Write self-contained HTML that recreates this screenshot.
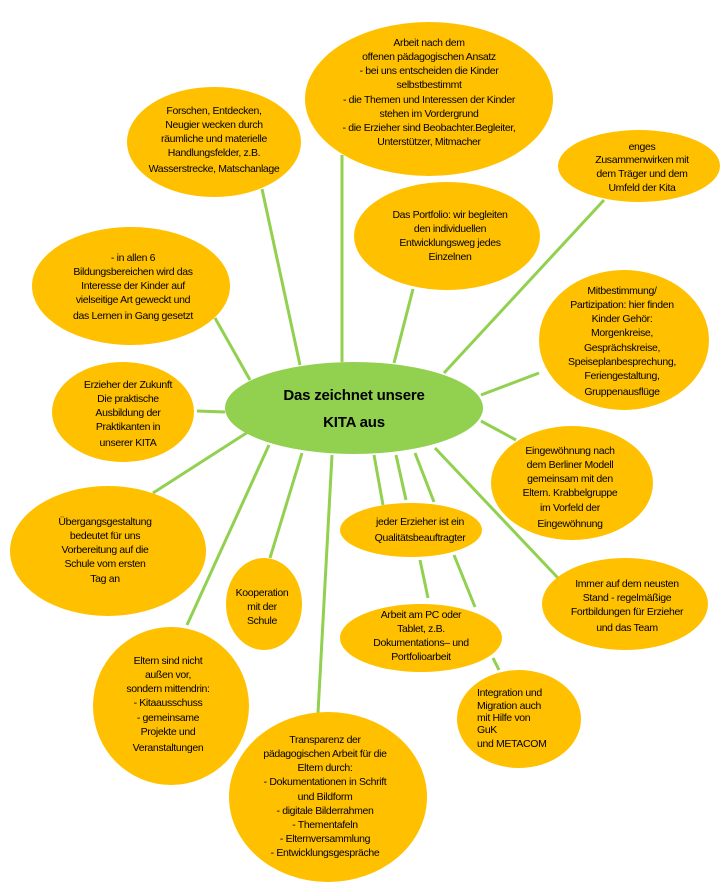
<!DOCTYPE html>
<html><head><meta charset="utf-8"><style>
html,body{margin:0;padding:0;background:#fff;}
svg{display:block;}
text{font-family:"Liberation Sans",sans-serif;font-size:10.5px;letter-spacing:-0.35px;fill:#000;}
.c{text-anchor:middle;}
.l{text-anchor:start;}
.t{font-size:15px;font-weight:bold;letter-spacing:-0.2px;}
</style></head><body>
<svg width="721" height="892" viewBox="0 0 721 892" xmlns="http://www.w3.org/2000/svg">
<g stroke="#92D050" stroke-width="3" fill="none">
<line x1="262" y1="189" x2="300" y2="365"/>
<line x1="342" y1="155" x2="342" y2="362"/>
<line x1="413" y1="289" x2="394" y2="363"/>
<line x1="604" y1="200" x2="444" y2="373"/>
<line x1="215" y1="318" x2="250" y2="380"/>
<line x1="539" y1="373" x2="481" y2="395"/>
<line x1="197" y1="411" x2="225" y2="412"/>
<line x1="481" y1="421" x2="516" y2="440"/>
<line x1="248" y1="432" x2="153" y2="493"/>
<line x1="269" y1="445" x2="187" y2="625"/>
<line x1="302" y1="453" x2="270" y2="558"/>
<line x1="332" y1="455" x2="318" y2="713"/>
<line x1="374" y1="455" x2="383" y2="505"/>
<line x1="396" y1="455" x2="406" y2="500"/>
<line x1="415" y1="453" x2="434" y2="502"/>
<line x1="435" y1="448" x2="558" y2="578"/>
<line x1="420" y1="560" x2="428" y2="598"/>
<line x1="454" y1="555" x2="475" y2="607"/>
<line x1="493" y1="658" x2="499" y2="670"/>
</g>
<g fill="#FFC000">
<ellipse cx="429" cy="99" rx="124" ry="77"/>
<ellipse cx="214" cy="142" rx="87" ry="55"/>
<ellipse cx="639" cy="166" rx="81" ry="36"/>
<ellipse cx="447" cy="236" rx="93" ry="54"/>
<ellipse cx="131" cy="286" rx="99" ry="59"/>
<ellipse cx="624" cy="340" rx="85" ry="70"/>
<ellipse cx="123" cy="412" rx="71" ry="50"/>
<ellipse cx="572" cy="483" rx="81" ry="57"/>
<ellipse cx="108" cy="551" rx="98" ry="65"/>
<ellipse cx="411" cy="530" rx="71" ry="27"/>
<ellipse cx="264" cy="604" rx="38" ry="46"/>
<ellipse cx="625" cy="604" rx="83" ry="46"/>
<ellipse cx="421" cy="638" rx="81" ry="34"/>
<ellipse cx="171" cy="706" rx="78" ry="79"/>
<ellipse cx="519" cy="719" rx="62" ry="49"/>
<ellipse cx="328" cy="797" rx="99" ry="85"/>
</g>
<ellipse cx="354" cy="408" rx="129" ry="46" fill="#92D050"/>
<text class="c t" x="354" y="400">Das zeichnet unsere</text>
<text class="c t" x="354" y="427">KITA aus</text>

<g>
<text class="c" x="429" y="46">Arbeit nach dem</text>
<text class="c" x="429" y="60">offenen pädagogischen Ansatz</text>
<text class="c" x="429" y="74">- bei uns entscheiden die Kinder</text>
<text class="c" x="429" y="88">selbstbestimmt</text>
<text class="c" x="429" y="103">- die Themen und Interessen der Kinder</text>
<text class="c" x="429" y="117">stehen im Vordergrund</text>
<text class="c" x="429" y="131">- die Erzieher sind  Beobachter.Begleiter,</text>
<text class="c" x="429" y="145">Unterstützer, Mitmacher</text>

<text class="c" x="214" y="114">Forschen, Entdecken,</text>
<text class="c" x="214" y="128">Neugier wecken durch</text>
<text class="c" x="214" y="142">räumliche und materielle</text>
<text class="c" x="214" y="156">Handlungsfelder, z.B.</text>
<text class="c" x="214" y="172">Wasserstrecke, Matschanlage</text>

<text class="c" x="642" y="150">enges</text>
<text class="c" x="642" y="163">Zusammenwirken mit</text>
<text class="c" x="642" y="177">dem Träger und dem</text>
<text class="c" x="642" y="191">Umfeld der Kita</text>

<text class="c" x="450" y="218">Das Portfolio: wir begleiten</text>
<text class="c" x="450" y="232">den individuellen</text>
<text class="c" x="450" y="246">Entwicklungsweg jedes</text>
<text class="c" x="450" y="260">Einzelnen</text>

<text class="c" x="133" y="261">- in allen 6</text>
<text class="c" x="133" y="275">Bildungsbereichen wird das</text>
<text class="c" x="133" y="289">Interesse der Kinder auf</text>
<text class="c" x="133" y="303">vielseitige Art geweckt und</text>
<text class="c" x="133" y="319">das Lernen in Gang gesetzt</text>

<text class="c" x="622" y="294">Mitbestimmung/</text>
<text class="c" x="622" y="308">Partizipation:  hier finden</text>
<text class="c" x="622" y="322">Kinder Gehör:</text>
<text class="c" x="622" y="336">Morgenkreise,</text>
<text class="c" x="622" y="351">Gesprächskreise,</text>
<text class="c" x="622" y="365">Speiseplanbesprechung,</text>
<text class="c" x="622" y="379">Feriengestaltung,</text>
<text class="c" x="622" y="395">Gruppenausflüge</text>

<text class="c" x="128" y="388">Erzieher der Zukunft</text>
<text class="c" x="128" y="402">Die praktische</text>
<text class="c" x="128" y="416">Ausbildung der</text>
<text class="c" x="128" y="430">Praktikanten in</text>
<text class="c" x="128" y="446">unserer KITA</text>

<text class="c" x="570" y="454">Eingewöhnung nach</text>
<text class="c" x="570" y="468">dem Berliner Modell</text>
<text class="c" x="570" y="482">gemeinsam mit den</text>
<text class="c" x="570" y="496">Eltern. Krabbelgruppe</text>
<text class="c" x="570" y="511">im Vorfeld der</text>
<text class="c" x="570" y="527">Eingewöhnung</text>

<text class="c" x="105" y="525">Übergangsgestaltung</text>
<text class="c" x="105" y="539">bedeutet für uns</text>
<text class="c" x="105" y="553">Vorbereitung auf die</text>
<text class="c" x="105" y="567">Schule vom ersten</text>
<text class="c" x="105" y="582">Tag an</text>

<text class="c" x="420" y="525">jeder Erzieher ist ein</text>
<text class="c" x="420" y="541">Qualitätsbeauftragter</text>

<text class="c" x="262" y="596">Kooperation</text>
<text class="c" x="262" y="610">mit der</text>
<text class="c" x="262" y="624">Schule</text>

<text class="c" x="627" y="587">Immer auf dem neusten</text>
<text class="c" x="627" y="601">Stand - regelmäßige</text>
<text class="c" x="627" y="615">Fortbildungen für Erzieher</text>
<text class="c" x="627" y="631">und das Team</text>

<text class="c" x="421" y="618">Arbeit am  PC oder</text>
<text class="c" x="421" y="632">Tablet, z.B.</text>
<text class="c" x="421" y="646">Dokumentations– und</text>
<text class="c" x="421" y="660">Portfolioarbeit</text>

<text class="c" x="168" y="664">Eltern sind nicht</text>
<text class="c" x="168" y="678">außen vor,</text>
<text class="c" x="168" y="692">sondern mittendrin:</text>
<text class="c" x="168" y="706">- Kitaausschuss</text>
<text class="c" x="168" y="721">- gemeinsame</text>
<text class="c" x="168" y="735">Projekte und</text>
<text class="c" x="168" y="751">Veranstaltungen</text>

<text class="l" x="477" y="696">Integration und</text>
<text class="l" x="477" y="709">Migration auch</text>
<text class="l" x="477" y="721">mit Hilfe von</text>
<text class="l" x="477" y="733">GuK</text>
<text class="l" x="477" y="747">und METACOM</text>

<text class="c" x="325" y="743">Transparenz der</text>
<text class="c" x="325" y="757">pädagogischen Arbeit für die</text>
<text class="c" x="325" y="771">Eltern durch:</text>
<text class="c" x="325" y="785">- Dokumentationen in Schrift</text>
<text class="c" x="325" y="800">und Bildform</text>
<text class="c" x="325" y="814">- digitale Bilderrahmen</text>
<text class="c" x="325" y="828">- Thementafeln</text>
<text class="c" x="325" y="842">- Elternversammlung</text>
<text class="c" x="325" y="856">- Entwicklungsgespräche</text>
</g>
</svg>
</body></html>
